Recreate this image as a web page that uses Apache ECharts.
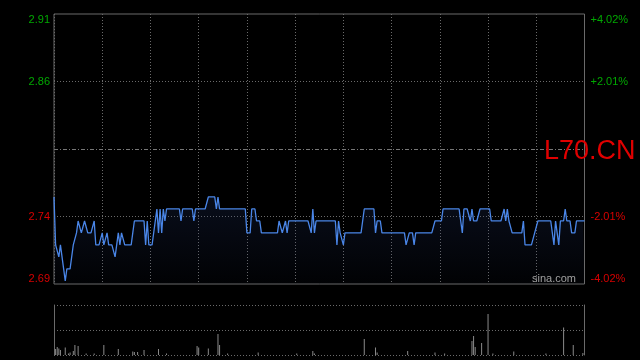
<!DOCTYPE html>
<html>
<head>
<meta charset="utf-8">
<script src="https://cdn.jsdelivr.net/npm/echarts@6/dist/echarts.min.js"></script>
<style>html,body{margin:0;padding:0;background:#000;}#c{width:640px;height:360px;}</style>
</head>
<body>
<div id="c"></div>
<script>
// previous close and axis range (percent)
var prevClose = 2.80;
var pctRange = 4.02;
var pctStep = 2.01;
var symbol = 'L70.CN';
var brand = 'sina.com';
// minute prices (0..330)
var prices = [
2.76,2.72,2.72,2.71,2.72,2.72,2.70,2.69,2.70,2.70,
2.70,2.70,2.72,2.72,2.73,2.74,2.74,2.73,2.73,2.74,
2.74,2.73,2.73,2.73,2.73,2.74,2.72,2.72,2.72,2.72,
2.73,2.72,2.72,2.73,2.72,2.72,2.72,2.72,2.71,2.72,
2.73,2.72,2.73,2.73,2.72,2.72,2.72,2.72,2.72,2.73,
2.74,2.74,2.74,2.74,2.74,2.74,2.74,2.72,2.74,2.72,
2.72,2.72,2.72,2.74,2.75,2.73,2.75,2.73,2.75,2.74,
2.75,2.75,2.75,2.75,2.75,2.75,2.75,2.75,2.75,2.74,
2.75,2.75,2.75,2.75,2.75,2.75,2.75,2.74,2.75,2.75,
2.75,2.75,2.75,2.75,2.75,2.75,2.76,2.76,2.76,2.76,
2.76,2.75,2.76,2.75,2.75,2.75,2.75,2.75,2.75,2.75,
2.75,2.75,2.75,2.75,2.75,2.75,2.75,2.75,2.75,2.75,
2.73,2.73,2.73,2.75,2.75,2.75,2.74,2.74,2.74,2.73,
2.73,2.73,2.73,2.73,2.73,2.73,2.73,2.73,2.73,2.73,
2.74,2.74,2.73,2.73,2.74,2.73,2.74,2.74,2.74,2.74,
2.74,2.74,2.74,2.74,2.74,2.74,2.74,2.74,2.74,2.74,
2.73,2.75,2.73,2.74,2.74,2.74,2.74,2.74,2.74,2.74,
2.74,2.74,2.74,2.74,2.74,2.74,2.72,2.74,2.73,2.73,
2.72,2.73,2.73,2.73,2.73,2.73,2.73,2.73,2.73,2.73,
2.73,2.73,2.73,2.75,2.75,2.75,2.75,2.75,2.75,2.75,
2.73,2.74,2.74,2.74,2.73,2.73,2.73,2.73,2.73,2.73,
2.73,2.73,2.73,2.73,2.73,2.73,2.73,2.73,2.73,2.72,
2.72,2.73,2.73,2.73,2.72,2.73,2.73,2.73,2.73,2.73,
2.73,2.73,2.73,2.73,2.73,2.73,2.73,2.74,2.74,2.74,
2.74,2.74,2.75,2.75,2.75,2.75,2.75,2.75,2.75,2.75,
2.75,2.75,2.75,2.75,2.73,2.75,2.75,2.75,2.75,2.74,
2.75,2.74,2.74,2.74,2.74,2.75,2.75,2.75,2.75,2.75,
2.75,2.75,2.74,2.74,2.74,2.74,2.74,2.74,2.74,2.74,
2.75,2.74,2.75,2.74,2.74,2.73,2.73,2.73,2.73,2.73,
2.73,2.73,2.74,2.72,2.72,2.72,2.72,2.72,2.72,2.73,
2.73,2.74,2.74,2.74,2.74,2.74,2.74,2.74,2.74,2.74,
2.74,2.72,2.74,2.74,2.72,2.74,2.74,2.74,2.75,2.74,
2.74,2.74,2.73,2.73,2.73,2.74,2.74,2.74,2.74,2.74,2.74
];
// volume bars: minute index and volume (relative units, axis max 100)
var volMinutes = [1,2,3,4,7,9,10,12,13,15,20,25,31,40,49,50,52,56,65,70,89,90,96,102,103,108,127,151,161,162,193,200,201,220,237,243,260,261,262,266,270,273,286,306,317,323,329];
var volValues  = [12,16,13,10,15,3,5,8,20,18,3,3,20,12,7,6,6,10,12,3,18,15,13,42,20,3,5,3,8,3,32,15,5,8,5,3,28,38,16,24,82,3,7,3,55,20,4];
var volMax = 100;

var pMin = prevClose * (1 - pctRange / 100);
var pMax = prevClose * (1 + pctRange / 100);
var pStep = prevClose * pctStep / 100;

var priceData = prices.map(function (p, i) { return [i, p]; });
var volData = volMinutes.map(function (m, i) { return [m, volValues[i]]; });

var GRID = '#6a6a6a';
var GREEN = '#00a800';
var RED = '#d80000';
var FONT = 'Liberation Sans, Arial, sans-serif';

var chart = echarts.init(document.getElementById('c'), null, {renderer: 'canvas'});
chart.setOption({
  backgroundColor: '#000',
  animation: false,
  title: [
    {text: symbol, left: 544, top: 138, padding: 0,
     textStyle: {color: '#e00000', fontSize: 27, fontWeight: 'normal', fontFamily: FONT}},
    {text: brand, left: 532, top: 273, padding: 0,
     textStyle: {color: '#a0a0a0', fontSize: 11, fontWeight: 'normal', fontFamily: FONT}}
  ],
  grid: [
    {left: 54, right: 55.5, top: 14, height: 270, show: true, borderColor: GRID, borderWidth: 1, backgroundColor: 'transparent'},
    {left: 54, right: 55.5, top: 305, height: 50, show: false}
  ],
  xAxis: [
    {type: 'value', gridIndex: 0, min: 0, max: 330, interval: 30,
     axisLine: {show: false}, axisTick: {show: false}, axisLabel: {show: false},
     splitLine: {show: true, lineStyle: {color: GRID, type: [1, 2], width: 1}}},
    {type: 'value', gridIndex: 1, min: 0, max: 330, interval: 30,
     axisLine: {show: false}, axisTick: {show: false}, axisLabel: {show: false},
     splitLine: {show: false}}
  ],
  yAxis: [
    {type: 'value', gridIndex: 0, position: 'left', min: pMin, max: pMax, interval: pStep,
     axisLine: {show: false}, axisTick: {show: false},
     splitLine: {show: true, lineStyle: {color: ['rgba(0,0,0,0)', GRID, 'rgba(0,0,0,0)', GRID, 'rgba(0,0,0,0)'], type: [1, 2]}},
     axisLabel: {show: true, margin: 4, fontSize: 11, fontFamily: FONT,
       verticalAlignMinLabel: 'bottom', verticalAlignMaxLabel: 'top',
       formatter: function (v) {
         if (Math.abs(v - prevClose) < 1e-6) return '';
         return (v > prevClose ? '{g|' : '{r|') + v.toFixed(2) + '}';
       },
       rich: {g: {color: GREEN, fontSize: 11, fontFamily: FONT}, r: {color: RED, fontSize: 11, fontFamily: FONT}}}},
    {type: 'value', gridIndex: 0, position: 'right', min: -pctRange, max: pctRange, interval: pctStep,
     axisLine: {show: false}, axisTick: {show: false}, splitLine: {show: false},
     axisLabel: {show: true, margin: 6, fontSize: 11, fontFamily: FONT,
       verticalAlignMinLabel: 'bottom', verticalAlignMaxLabel: 'top',
       formatter: function (v) {
         if (Math.abs(v) < 1e-6) return '';
         return (v > 0 ? '{g|+' : '{r|') + v.toFixed(2) + '%}';
       },
       rich: {g: {color: GREEN, fontSize: 11, fontFamily: FONT}, r: {color: RED, fontSize: 11, fontFamily: FONT}}}},
    {type: 'value', gridIndex: 1, position: 'left', min: 0, max: volMax, interval: volMax / 2,
     axisLine: {show: true, lineStyle: {color: GRID}}, axisTick: {show: false}, axisLabel: {show: false},
     splitLine: {show: true, lineStyle: {color: GRID, type: [1, 2]}}},
    {type: 'value', gridIndex: 1, position: 'right', min: 0, max: volMax, interval: volMax / 2,
     axisLine: {show: true, lineStyle: {color: GRID}}, axisTick: {show: false}, axisLabel: {show: false},
     splitLine: {show: false}}
  ],
  series: [
    {type: 'line', xAxisIndex: 0, yAxisIndex: 0, data: priceData, symbol: 'none', smooth: false,
     lineStyle: {color: '#4a86e8', width: 1.3},
     areaStyle: {color: new echarts.graphic.LinearGradient(0, 0, 0, 1, [
       {offset: 0, color: 'rgba(35,55,110,0.35)'}, {offset: 1, color: 'rgba(35,55,110,0.05)'}])},
     markLine: {silent: true, symbol: 'none', label: {show: false},
       lineStyle: {color: '#777', type: [4, 2, 1, 2], width: 1},
       data: [{yAxis: prevClose}]}},
    {type: 'bar', xAxisIndex: 1, yAxisIndex: 2, data: volData, barWidth: 1,
     itemStyle: {color: '#8a8a8a'}}
  ]
});
</script>
</body>
</html>
